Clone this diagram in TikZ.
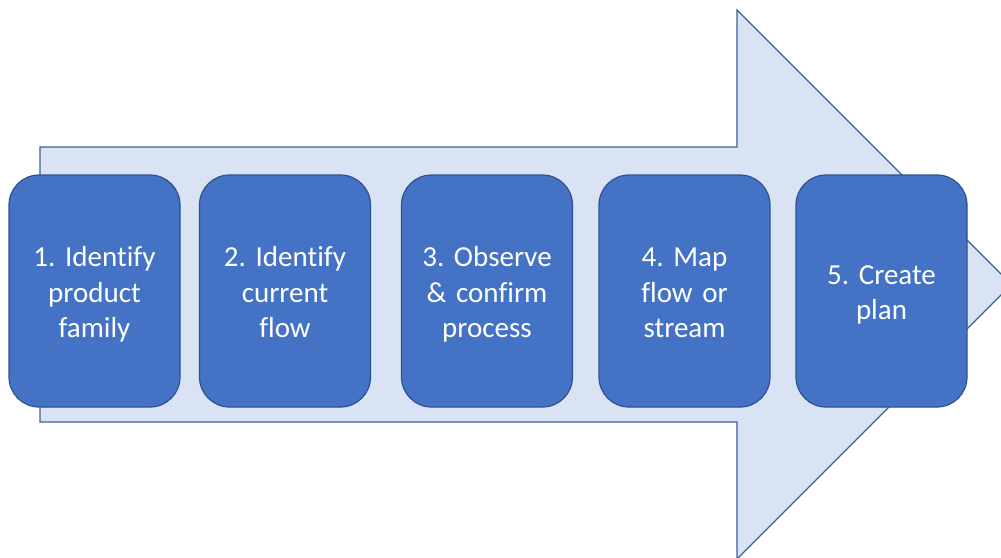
\documentclass[tikz,border=0pt]{standalone}
\usepackage{fontspec}
\setmainfont{Carlito}[Ligatures=NoCommon]
\frenchspacing
\definecolor{boxfill}{HTML}{4472C4}
\definecolor{boxline}{HTML}{2F528F}
\definecolor{arrowfill}{HTML}{DAE3F3}
\definecolor{arrowline}{HTML}{3A5F9E}
\newcommand{\steptext}[1]{\raisebox{-4pt}[\height][\depth]{\parbox{165pt}{\centering\strut #1\strut}}}
\tikzset{
  stepbox/.style={draw=boxline, line width=1.2pt, fill=boxfill, rounded corners=30pt,
    minimum width=171pt, minimum height=232pt, text width=165pt, align=center,
    text=white, inner sep=0pt, font=\fontsize{29}{35.5}\selectfont},
  bigarrow/.style={draw=arrowline, line width=1.1pt, fill=arrowfill}
}
\begin{document}
\begin{tikzpicture}[x=1pt, y=-1pt]
\useasboundingbox (0,0) rectangle (1001,557);
\clip (0,0) rectangle (1001,557);
\draw[bigarrow] (40,147) -- (737,147) -- (737,10) -- (1011.5,284.5) -- (737,559) -- (737,422) -- (40,422) -- cycle;
\node[stepbox] (s1) at (94.5,291) {\steptext{1. Identify\\product\\family}};
\node[stepbox] (s2) at (285,291) {\steptext{2. Identify\\current\\flow}};
\node[stepbox] (s3) at (487,291) {\steptext{3. Observe\\\&~confirm\\process}};
\node[stepbox] (s4) at (684.5,291) {\steptext{4. Map\\flow or\\stream}};
\node[stepbox] (s5) at (881.5,291) {\steptext{5. Create\\plan}};
\end{tikzpicture}
\end{document}
